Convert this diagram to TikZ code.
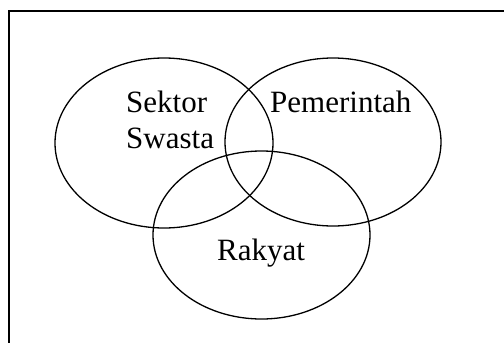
\documentclass[tikz,border=0pt]{standalone}
\usepackage{fontspec}
\setmainfont{Liberation Serif}
\begin{document}
\begin{tikzpicture}[x=1pt,y=-1pt,
  circ/.style={line width=1.3pt},
  lbl/.style={anchor=base west,inner sep=0pt,font=\fontsize{31}{36}\selectfont}]
\useasboundingbox (0,0) rectangle (504,343);
\draw[line width=2pt] (9,343) -- (9,11) -- (504,11);
\draw[circ] (164,143) ellipse [x radius=109, y radius=85];
\draw[circ] (333,142) ellipse [x radius=108, y radius=84];
\draw[circ] (261.5,235) ellipse [x radius=108.5, y radius=84];
\node[lbl] (sektor) at (126,112) {Sektor};
\node[lbl] (swasta) at (126,148) {Swasta};
\node[lbl] (pemerintah) at (270,112) {Pemerintah};
\node[lbl] (rakyat) at (217,260) {Rakyat};
\end{tikzpicture}
\end{document}
